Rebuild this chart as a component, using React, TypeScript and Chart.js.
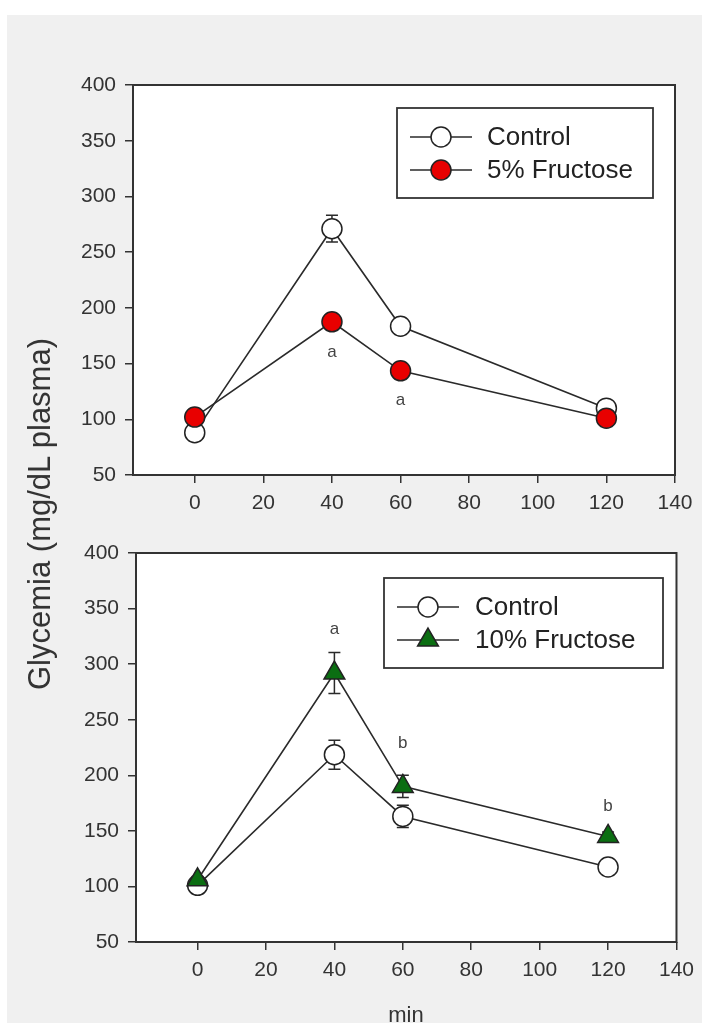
import React, { useEffect, useRef } from 'react';
import { Chart, registerables } from 'chart.js';

Chart.register(...registerables);

// ---------- data ----------
const timePoints = [0, 40, 60, 120];
const xTickValues = [0, 20, 40, 60, 80, 100, 120, 140];
const yTickValues = [50, 100, 150, 200, 250, 300, 350, 400];

const topControl = [88, 271, 183.5, 110];
const topControlSem = [3, 12, 4, 4];
const topFructose5 = [102, 187.5, 143.5, 101];
const topFructose5Sem = [3, 5, 5, 3];
const topLetters = ['', 'a', 'a', ''];
const topLetterY = [null, 160, 117, null];

const bottomControl = [101, 218.5, 163, 117.5];
const bottomControlSem = [3, 13, 10, 4];
const bottomFructose10 = [106, 292, 190, 145];
const bottomFructose10Sem = [3, 18.5, 10, 4];
const bottomLetters = ['', 'a', 'b', 'b'];
const bottomLetterY = [null, 331, 229, 172];

const FONT = '"Liberation Sans", Arial, sans-serif';
const INK = '#2a2a2a';

type PanelOpts = {
  sems: number[][];
  letters: string[];
  letterY: (number | null)[];
  legend: { x: number; y: number; w: number; h: number; lineX1: number; lineX2: number; textX: number; rows: number[] };
};

function drawMarker(ctx: CanvasRenderingContext2D, style: string, x: number, y: number, r: number, fill: string) {
  ctx.save();
  ctx.beginPath();
  if (style === 'triangle') {
    let rad = 0;
    ctx.moveTo(x + Math.sin(rad) * r, y - Math.cos(rad) * r);
    rad += (2 * Math.PI) / 3;
    ctx.lineTo(x + Math.sin(rad) * r, y - Math.cos(rad) * r);
    rad += (2 * Math.PI) / 3;
    ctx.lineTo(x + Math.sin(rad) * r, y - Math.cos(rad) * r);
    ctx.closePath();
  } else {
    ctx.arc(x, y, r, 0, Math.PI * 2);
  }
  ctx.fillStyle = fill;
  ctx.fill();
  ctx.lineWidth = 1.5;
  ctx.strokeStyle = '#222';
  ctx.stroke();
  ctx.restore();
}

const panelPlugin = {
  id: 'panel',
  beforeDraw(chart: any) {
    const { ctx, chartArea } = chart;
    ctx.save();
    ctx.fillStyle = '#ffffff';
    ctx.fillRect(chartArea.left, chartArea.top, chartArea.right - chartArea.left, chartArea.bottom - chartArea.top);
    ctx.restore();
  },
  beforeDatasetsDraw(chart: any, _args: any, opts: PanelOpts) {
    const { ctx } = chart;
    const xs = chart.scales.x;
    const ys = chart.scales.y;
    ctx.save();
    ctx.strokeStyle = INK;
    ctx.lineWidth = 1.5;
    chart.data.datasets.forEach((ds: any, di: number) => {
      const sem = opts.sems[di];
      ds.data.forEach((p: any, i: number) => {
        const px = xs.getPixelForValue(p.x);
        const yTop = ys.getPixelForValue(p.y + sem[i]);
        const yBot = ys.getPixelForValue(p.y - sem[i]);
        ctx.beginPath();
        ctx.moveTo(px, yTop);
        ctx.lineTo(px, yBot);
        ctx.moveTo(px - 6, yTop);
        ctx.lineTo(px + 6, yTop);
        ctx.moveTo(px - 6, yBot);
        ctx.lineTo(px + 6, yBot);
        ctx.stroke();
      });
    });
    ctx.restore();
  },
  afterDatasetsDraw(chart: any, _args: any, opts: PanelOpts) {
    const { ctx, chartArea } = chart;
    const xs = chart.scales.x;
    const ys = chart.scales.y;
    ctx.save();
    // significance letters
    ctx.fillStyle = '#444';
    ctx.font = `17px ${FONT}`;
    ctx.textAlign = 'center';
    ctx.textBaseline = 'middle';
    opts.letters.forEach((l, i) => {
      const ly = opts.letterY[i];
      if (!l || ly === null) return;
      ctx.fillText(l, xs.getPixelForValue(timePoints[i]), ys.getPixelForValue(ly));
    });
    // frame
    ctx.strokeStyle = '#333';
    ctx.lineWidth = 2;
    ctx.strokeRect(chartArea.left, chartArea.top, chartArea.right - chartArea.left, chartArea.bottom - chartArea.top);
    // legend
    const lg = opts.legend;
    ctx.fillStyle = '#ffffff';
    ctx.fillRect(lg.x, lg.y, lg.w, lg.h);
    ctx.strokeStyle = '#333';
    ctx.lineWidth = 1.8;
    ctx.strokeRect(lg.x, lg.y, lg.w, lg.h);
    ctx.font = `26px ${FONT}`;
    ctx.textAlign = 'left';
    ctx.textBaseline = 'middle';
    chart.data.datasets.forEach((ds: any, di: number) => {
      const ry = lg.rows[di];
      ctx.strokeStyle = INK;
      ctx.lineWidth = 1.5;
      ctx.beginPath();
      ctx.moveTo(lg.lineX1, ry);
      ctx.lineTo(lg.lineX2, ry);
      ctx.stroke();
      drawMarker(ctx, ds.pointStyle, (lg.lineX1 + lg.lineX2) / 2, ry, ds.pointRadius, ds.pointBackgroundColor);
      ctx.fillStyle = '#222';
      ctx.fillText(ds.label, lg.textX, ry + 1);
    });
    ctx.restore();
  },
};

function makeDataset(label: string, values: number[], fill: string, style: string, radius: number, order: number) {
  return {
    label,
    data: timePoints.map((x, i) => ({ x, y: values[i] })),
    borderColor: INK,
    borderWidth: 1.6,
    pointStyle: style,
    pointRadius: radius,
    pointHoverRadius: radius,
    pointBackgroundColor: fill,
    pointBorderColor: '#222',
    pointBorderWidth: 1.5,
    tension: 0,
    fill: false,
    order,
    clip: false,
  };
}

type PanelProps = {
  width: number;
  height: number;
  top: number;
  yAxisWidth: number;
  xAxisHeight: number;
  padTop: number;
  padRight: number;
  datasets: any[];
  panel: PanelOpts;
};

function Panel(props: PanelProps) {
  const ref = useRef<HTMLCanvasElement | null>(null);
  useEffect(() => {
    if (!ref.current) return;
    const chart = new Chart(ref.current, {
      type: 'line',
      data: { datasets: props.datasets },
      plugins: [panelPlugin as any],
      options: {
        animation: false,
        responsive: false,
        maintainAspectRatio: false,
        events: [],
        layout: { padding: { left: 0, top: props.padTop, right: props.padRight, bottom: 0 } },
        plugins: {
          legend: { display: false },
          tooltip: { enabled: false },
          panel: props.panel,
        } as any,
        scales: {
          x: {
            type: 'linear',
            min: -18,
            max: 140,
            afterBuildTicks: (s: any) => {
              s.ticks = xTickValues.map((v) => ({ value: v }));
            },
            afterFit: (s: any) => {
              s.height = props.xAxisHeight;
            },
            grid: { display: true, drawOnChartArea: false, drawTicks: true, tickLength: 8, color: '#333', lineWidth: 1.5 },
            border: { display: false },
            ticks: { color: '#333', font: { family: FONT, size: 21 }, padding: 8, maxRotation: 0, autoSkip: false },
          },
          y: {
            type: 'linear',
            min: 50,
            max: 400,
            afterBuildTicks: (s: any) => {
              s.ticks = yTickValues.map((v) => ({ value: v }));
            },
            afterFit: (s: any) => {
              s.width = props.yAxisWidth;
            },
            grid: { display: true, drawOnChartArea: false, drawTicks: true, tickLength: 8, color: '#333', lineWidth: 1.5 },
            border: { display: false },
            ticks: { color: '#333', font: { family: FONT, size: 21 }, padding: 9, autoSkip: false },
          },
        },
      } as any,
    });
    return () => chart.destroy();
  }, []);
  return (
    <canvas
      ref={ref}
      width={props.width}
      height={props.height}
      style={{ position: 'absolute', left: 0, top: props.top, width: props.width, height: props.height }}
    />
  );
}

export default function App() {
  const topDatasets = [
    makeDataset('Control', topControl, '#ffffff', 'circle', 10, 1),
    makeDataset('5% Fructose', topFructose5, '#e80000', 'circle', 10, 0),
  ];
  const bottomDatasets = [
    makeDataset('Control', bottomControl, '#ffffff', 'circle', 10, 1),
    makeDataset('10% Fructose', bottomFructose10, '#0b6e12', 'triangle', 12, 0),
  ];
  const topTop = 0;
  const bottomTop = 530;
  return (
    <div style={{ position: 'absolute', left: 0, top: 0, width: 702, height: 1023, background: '#ffffff', overflow: 'hidden' }}>
      <div style={{ position: 'absolute', left: 7, top: 15, width: 695, height: 1008, background: '#f0f0f0' }} />
      <Panel
        width={702}
        height={530}
        top={topTop}
        yAxisWidth={133}
        xAxisHeight={55}
        padTop={85}
        padRight={27}
        datasets={topDatasets}
        panel={{
          sems: [topControlSem, topFructose5Sem],
          letters: topLetters,
          letterY: topLetterY,
          legend: { x: 397, y: 108 - topTop, w: 256, h: 90, lineX1: 410, lineX2: 472, textX: 487, rows: [137 - topTop, 170 - topTop] },
        }}
      />
      <Panel
        width={702}
        height={493}
        top={bottomTop}
        yAxisWidth={136}
        xAxisHeight={81}
        padTop={23}
        padRight={25}
        datasets={bottomDatasets}
        panel={{
          sems: [bottomControlSem, bottomFructose10Sem],
          letters: bottomLetters,
          letterY: bottomLetterY,
          legend: { x: 384, y: 578 - bottomTop, w: 279, h: 90, lineX1: 397, lineX2: 459, textX: 475, rows: [607 - bottomTop, 640 - bottomTop] },
        }}
      />
      <div
        style={{
          position: 'absolute',
          left: 40,
          top: 514,
          transform: 'translate(-50%, -50%) rotate(-90deg)',
          whiteSpace: 'nowrap',
          font: `31px ${FONT}`,
          color: '#333',
        }}
      >
        Glycemia (mg/dL plasma)
      </div>
      <div
        style={{
          position: 'absolute',
          left: 406,
          top: 1015,
          transform: 'translate(-50%, -50%)',
          whiteSpace: 'nowrap',
          font: `22px ${FONT}`,
          color: '#333',
        }}
      >
        min
      </div>
    </div>
  );
}
